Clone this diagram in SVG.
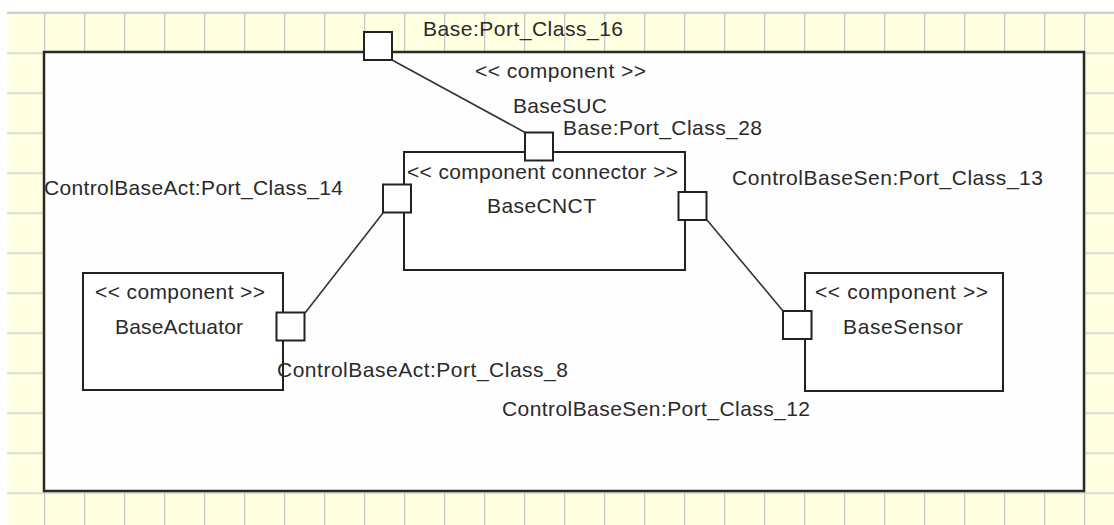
<svg xmlns="http://www.w3.org/2000/svg" width="1114" height="525" viewBox="0 0 1114 525">
  <defs>
    <pattern id="grid" x="4" y="12.5" width="40" height="40" patternUnits="userSpaceOnUse">
      <rect width="40" height="40" fill="#ffffe2"/>
      <path d="M0 0.5 H40 M0.5 0 V40" stroke="#c8c8c8" stroke-width="1.5" fill="none"/>
    </pattern>
  </defs>
  <style>
    .box { fill: #ffffff; stroke: #222222; stroke-width: 2; }
    .frame { fill: #fefefe; stroke: #2a2a2a; stroke-width: 2.5; }
    .port { fill: #ffffff; stroke: #222222; stroke-width: 2; }
    .conn { stroke: #333333; stroke-width: 1.6; fill: none; }
    text { font-family: "Liberation Sans", Arial, sans-serif; font-size: 21px; fill: #2a2a2a; }
  </style>
  <rect x="0" y="0" width="1114" height="525" fill="#ffffff"/>
  <rect x="7" y="12" width="1107" height="513" fill="url(#grid)"/>
  <line x1="7" y1="12.5" x2="1114" y2="12.5" stroke="#c8c8c8" stroke-width="1.5"/>

  <g id="BaseSUC">
    <rect class="frame" x="44" y="52" width="1040" height="439"/>
    <text x="475" y="78" textLength="171" lengthAdjust="spacing">&lt;&lt; component &gt;&gt;</text>
    <text x="513" y="113" textLength="94" lengthAdjust="spacing">BaseSUC</text>
  </g>

  <g id="BaseCNCT">
    <rect class="box" x="404" y="152" width="281" height="118"/>
    <text x="407" y="179" textLength="271" lengthAdjust="spacing">&lt;&lt; component connector &gt;&gt;</text>
    <text x="487" y="213" textLength="109" lengthAdjust="spacing">BaseCNCT</text>
  </g>

  <g id="BaseActuator">
    <rect class="box" x="83" y="273" width="200" height="117"/>
    <text x="95" y="299" textLength="170" lengthAdjust="spacing">&lt;&lt; component &gt;&gt;</text>
    <text x="115" y="334" textLength="128" lengthAdjust="spacing">BaseActuator</text>
  </g>

  <g id="BaseSensor">
    <rect class="box" x="805" y="273" width="198" height="118"/>
    <text x="815" y="299" textLength="173" lengthAdjust="spacing">&lt;&lt; component &gt;&gt;</text>
    <text x="843" y="333.5" textLength="120" lengthAdjust="spacing">BaseSensor</text>
  </g>

  <g id="connectors">
    <line class="conn" x1="392" y1="60" x2="526" y2="133"/>
    <line class="conn" x1="383" y1="213" x2="305" y2="313"/>
    <line class="conn" x1="707" y1="220" x2="783" y2="311"/>
  </g>

  <g id="Port_Class_16">
    <rect class="port" x="364" y="32" width="28" height="28"/>
    <text x="423" y="35.5" textLength="200" lengthAdjust="spacing">Base:Port_Class_16</text>
  </g>
  <g id="Port_Class_28">
    <rect class="port" x="525" y="132.5" width="28" height="28"/>
    <text x="563" y="135" textLength="199" lengthAdjust="spacing">Base:Port_Class_28</text>
  </g>
  <g id="Port_Class_14">
    <rect class="port" x="383" y="184.5" width="28" height="28"/>
    <text x="44" y="195" textLength="299" lengthAdjust="spacing">ControlBaseAct:Port_Class_14</text>
  </g>
  <g id="Port_Class_13">
    <rect class="port" x="678.5" y="192" width="28" height="28"/>
    <text x="732" y="185" textLength="311" lengthAdjust="spacing">ControlBaseSen:Port_Class_13</text>
  </g>
  <g id="Port_Class_8">
    <rect class="port" x="276.5" y="312.5" width="28" height="28"/>
    <text x="277" y="377" textLength="291" lengthAdjust="spacing">ControlBaseAct:Port_Class_8</text>
  </g>
  <g id="Port_Class_12">
    <rect class="port" x="783" y="311" width="28.5" height="28"/>
    <text x="502" y="416" textLength="308" lengthAdjust="spacing">ControlBaseSen:Port_Class_12</text>
  </g>
</svg>
